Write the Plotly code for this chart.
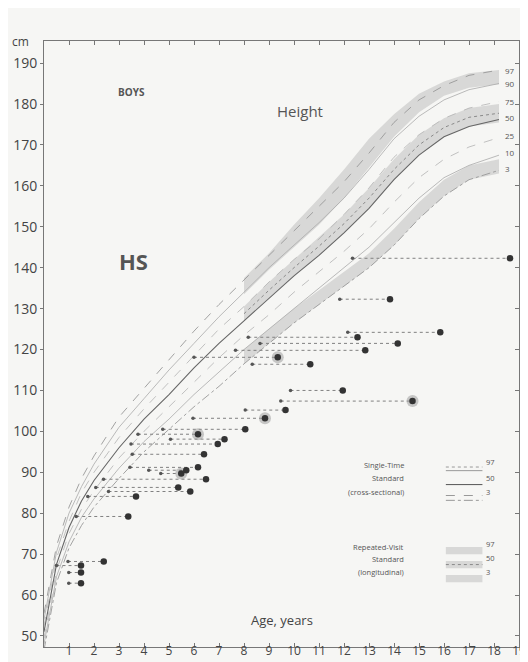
import plotly.graph_objects as go

# ---------------- data ----------------
# cross-sectional percentile curves (boys height, cm)
ages_cs = [0, 0.5, 1, 1.5, 2, 3, 4, 5, 6, 7, 8, 9, 10, 11, 12, 13, 14, 15, 16, 17, 18.2]
p3  = [46.5, 63, 71.5, 77, 81.5, 88.5, 95, 100.5, 106, 111, 116.5, 121.5, 126.5, 131, 135.5, 140, 145.5, 152, 157.5, 161.5, 163.8]
p10 = [48, 64.5, 73, 79, 83.5, 91, 97.5, 103, 109, 114.5, 120, 125, 130, 135, 140, 145, 151, 157, 162, 165, 167.5]
p25 = [49.5, 66, 75, 81, 85.5, 93.5, 100, 106, 112, 118, 123.5, 128.5, 134, 139, 144, 149.5, 156, 162, 166.5, 169.5, 171.8]
p50 = [51, 67.5, 76.5, 83, 88, 96, 103, 109, 115.5, 121.5, 127, 132.5, 138, 143, 148.5, 154.5, 161.5, 167.5, 172, 174.5, 176.2]
p75 = [52.5, 69, 78, 85, 90, 98.5, 105.5, 112, 118.5, 125, 130.5, 136.5, 142, 147, 153, 159.5, 167, 172.5, 176.5, 179, 180.6]
p90 = [54, 70.5, 80, 86.5, 92, 101, 108, 115, 121.5, 128, 134, 140, 145.5, 151, 157, 164, 171.5, 177, 181, 183.5, 185.0]
p97 = [55.5, 72, 81.5, 88.5, 94, 103.5, 110.5, 117.5, 124.5, 131, 137, 143, 149, 155, 161, 168, 175.5, 181, 184.5, 187, 188.3]
pct_labels = ["97", "90", "75", "50", "25", "10", "3"]
pct_label_y = [188.3, 185.0, 180.7, 176.6, 172.2, 168.2, 164.3]

# longitudinal (repeated-visit) bands
ages_lg = [8, 9, 10, 11, 12, 13, 14, 15, 16, 17, 18.2]
lg97_lo = [133.5, 139.5, 145, 150.5, 157, 164.5, 172, 178, 182, 184, 184.8]
lg97_hi = [137.5, 143.5, 150.5, 157, 164, 171.5, 177.5, 182.5, 185.5, 187.5, 188.3]
lg50_lo = [127, 132.5, 138, 143, 148.5, 154.5, 161.5, 167.5, 172, 174.5, 175.5]
lg50_hi = [130.5, 136.5, 142, 147.5, 153, 159.5, 166.5, 172.5, 176.5, 179, 180]
lg3_lo = [116.5, 121.5, 126.5, 131, 135.5, 140, 145.5, 152, 157.5, 161.5, 163]
lg3_hi = [120, 125, 130, 134.5, 139, 143.5, 149.5, 156, 161.5, 165, 166.5]

# patient observations: height, bone age (small dot), chronological age (big dot)
obs_height = [142.3, 132.3, 124.2, 123.0, 121.5, 119.8, 118.1, 116.4, 110.0, 107.4, 105.2, 103.2, 100.5,
              99.3, 98.1, 96.9, 94.4, 91.2, 90.5, 89.7, 88.3, 86.3, 85.3, 84.1, 79.2, 68.2, 67.2, 65.5, 62.9]
bone_age = [12.34, 11.83, 12.15, 8.17, 8.64, 7.66, 6.0, 8.33, 9.86, 9.47, 8.05, 5.96, 4.75,
            3.76, 5.06, 3.48, 3.53, 3.44, 4.19, 4.67, 2.38, 2.07, 2.58, 1.75, 1.29, 0.96, 0.5, 0.99, 0.99]
chron_age = [18.64, 13.84, 15.85, 12.54, 14.15, 12.85, 9.35, 10.65, 11.95, 14.74, 9.66, 8.84, 8.05,
             6.16, 7.22, 6.95, 6.4, 6.16, 5.69, 5.49, 6.48, 5.37, 5.85, 3.68, 3.37, 2.39, 1.48, 1.48, 1.48]
halo = [False, False, False, False, False, False, True, False, False, True, False, True, False,
        True, False, False, False, False, False, True, False, False, False, False, False, False, False, False, False]

x_ticks = list(range(1, 20))
y_ticks = list(range(50, 200, 10))
y_range = [47.3, 195.4]

# ---------------- figure ----------------
BG = "#f6f6f4"
FONT = "Open Sans"
fig = go.Figure()

band_fill = "rgba(175,175,175,0.42)"
for lo, hi in [(lg97_lo, lg97_hi), (lg50_lo, lg50_hi), (lg3_lo, lg3_hi)]:
    fig.add_trace(go.Scatter(x=ages_lg + ages_lg[::-1], y=hi + lo[::-1], fill="toself",
                             fillcolor=band_fill, line=dict(width=0), mode="lines",
                             hoverinfo="skip", showlegend=False))
fig.add_trace(go.Scatter(x=ages_lg, y=[(a + b) / 2 for a, b in zip(lg50_lo, lg50_hi)], mode="lines",
                         line=dict(color="#8a8a8a", width=1, dash="dot"), showlegend=False))

styles = [
    (p97, "#999999", 0.9, "dash"),
    (p90, "#aaaaaa", 0.8, "solid"),
    (p75, "#b3b3b3", 0.8, "dash"),
    (p50, "#666666", 1.1, "solid"),
    (p25, "#b3b3b3", 0.8, "dash"),
    (p10, "#aaaaaa", 0.8, "solid"),
    (p3, "#999999", 0.9, "dashdot"),
]
for ys, c, w, d in styles:
    fig.add_trace(go.Scatter(x=ages_cs, y=ys, mode="lines", line=dict(color=c, width=w, dash=d),
                             showlegend=False))

for h, b, c in zip(obs_height, bone_age, chron_age):
    fig.add_trace(go.Scatter(x=[b, c], y=[h, h], mode="lines",
                             line=dict(color="#808080", width=1, dash="dot"), showlegend=False))
fig.add_trace(go.Scatter(x=[c for c, f in zip(chron_age, halo) if f],
                         y=[h for h, f in zip(obs_height, halo) if f], mode="markers",
                         marker=dict(size=12, color="rgba(150,150,150,0.5)"), showlegend=False))
fig.add_trace(go.Scatter(x=bone_age, y=obs_height, mode="markers",
                         marker=dict(size=3.5, color="#555555"), showlegend=False))
fig.add_trace(go.Scatter(x=chron_age, y=obs_height, mode="markers",
                         marker=dict(size=6.5, color="#333333"), showlegend=False))

for lab, yv in zip(pct_labels, pct_label_y):
    fig.add_annotation(x=18.35, y=yv, text=lab, showarrow=False, xanchor="left",
                       font=dict(size=8, color="#555", family=FONT))

fig.add_annotation(x=-0.027, y=1.0, xref="paper", yref="paper", text="cm", showarrow=False,
                   font=dict(size=12, color="#444", family=FONT), xanchor="right", yanchor="middle")
fig.add_annotation(x=3.5, y=182.9, text="<b>BOYS</b>", showarrow=False,
                   font=dict(size=10, color="#555", family=FONT))
fig.add_annotation(x=10.25, y=178.3, text="Height", showarrow=False,
                   font=dict(size=15, color="#555", family=FONT))
fig.add_annotation(x=3.56, y=141.6, text="<b>HS</b>", showarrow=False,
                   font=dict(size=22, color="#555", family=FONT))
fig.add_annotation(x=9.5, y=53.8, text="Age, years", showarrow=False,
                   font=dict(size=13, color="#444", family=FONT))

for txt, yp in [("Single-Time", 0.289), ("Standard", 0.267), ("(cross-sectional)", 0.245),
                ("Repeated-Visit", 0.154), ("Standard", 0.134), ("(longitudinal)", 0.113)]:
    fig.add_annotation(x=0.763, y=yp, xref="paper", yref="paper", text=txt, showarrow=False,
                       font=dict(size=7.5, color="#555", family=FONT))
for lab, yp in [("97", 0.293), ("50", 0.268), ("3", 0.244), ("97", 0.159), ("50", 0.136), ("3", 0.113)]:
    fig.add_annotation(x=0.926, y=yp, xref="paper", yref="paper", text=lab, showarrow=False,
                       xanchor="left", font=dict(size=7.5, color="#555", family=FONT))
shapes = []
for yp, d, c in [(0.297, "dot", "#999"), (0.291, "solid", "#999"), (0.268, "solid", "#555"),
                 (0.25, "dash", "#999"), (0.242, "dashdot", "#999")]:
    shapes.append(dict(type="line", xref="paper", yref="paper", x0=0.846, x1=0.923, y0=yp, y1=yp,
                       line=dict(color=c, width=1, dash=d)))
for yp in [0.159, 0.136, 0.113]:
    shapes.append(dict(type="rect", xref="paper", yref="paper", x0=0.846, x1=0.923, y0=yp - 0.006,
                       y1=yp + 0.006, fillcolor=band_fill, line=dict(width=0)))
shapes.append(dict(type="line", xref="paper", yref="paper", x0=0.846, x1=0.923, y0=0.136, y1=0.136,
                   line=dict(color="#888", width=1, dash="dot")))

fig.update_layout(
    width=528, height=662,
    margin=dict(l=36, r=17, t=33, b=23),
    paper_bgcolor=BG, plot_bgcolor=BG,
    showlegend=False,
    shapes=shapes,
    xaxis=dict(range=[0, 19], tickvals=x_ticks, ticktext=[str(v) for v in x_ticks],
               ticks="inside", ticklen=4, tickcolor="#777", mirror="ticks", automargin=False,
               ticklabeloverflow="allow", ticklabelstandoff=-7,
               showline=True, linecolor="#777", linewidth=1, showgrid=False, zeroline=False,
               tickfont=dict(size=12, color="#444", family=FONT)),
    yaxis=dict(range=y_range, tickvals=y_ticks, ticktext=[str(v) for v in y_ticks],
               ticks="outside", ticklen=3, tickcolor="#777", showline=True, linecolor="#777",
               linewidth=1, showgrid=False, zeroline=False, automargin=False,
               ticklabeloverflow="allow",
               tickfont=dict(size=14, color="#444", family=FONT)),
    yaxis2=dict(range=y_range, overlaying="y", side="right", tickvals=y_ticks,
                showticklabels=False, ticks="inside", ticklen=4, tickcolor="#777", automargin=False,
                showline=True, linecolor="#777", showgrid=False, zeroline=False),
)
fig.add_trace(go.Scatter(x=[None], y=[None], yaxis="y2", showlegend=False))

fig.write_html("out.html")
